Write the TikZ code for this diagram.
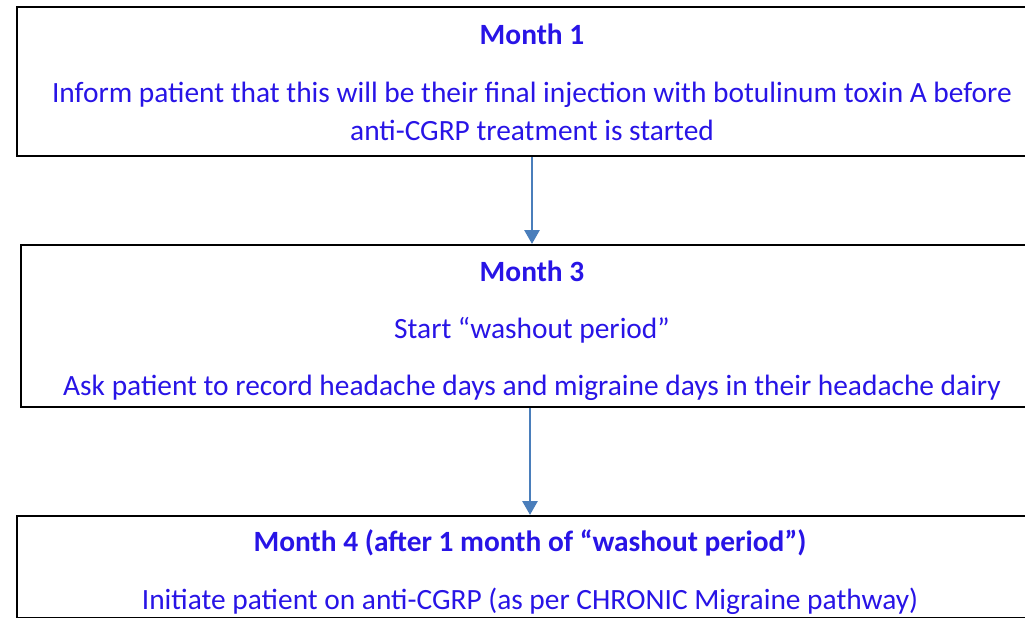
\documentclass[tikz,border=0pt]{standalone}
\usepackage{fontspec}
\setmainfont{Carlito}
\usetikzlibrary{positioning,arrows.meta}
\definecolor{txtblue}{RGB}{40,20,230}
\definecolor{arrowblue}{RGB}{74,126,187}

\begin{document}
\begin{tikzpicture}[x=1pt,y=-1pt,
  box/.style={draw,line width=2.2pt,minimum width=1040pt,anchor=north west,inner sep=0pt},
  txt/.style={text=txtblue,font=\fontsize{29.4}{34}\selectfont,inner sep=0pt},
  ttl/.style={txt,font=\fontsize{29.4}{34}\selectfont\bfseries},
  flow/.style={draw=arrowblue,line width=2.8pt,-{Triangle[length=14pt,width=15pt]}}]
\useasboundingbox (0,0) rectangle (1025,618);
\clip (0,0) rectangle (1025,618);

\node[box,minimum height=149pt] (box1) at (16,6) {};
\node[box,minimum height=162pt] (box2) at (20,244) {};
\node[box,minimum height=102pt] (box3) at (16,515) {};

\node[ttl] (m1) at (532,34) {Month 1};
\node[txt] (inform) at (532,95) {Inform patient that this will be their final injection with botulinum toxin A before};
\node[txt] (inform2) at (532,130) {anti-CGRP treatment is started};

\node[ttl] (m3) at (532,271) {Month 3};
\node[txt] (start) at (532,330) {Start “washout period”};
\node[txt] (ask) at (532,388) {Ask patient to record headache days and migraine days in their headache dairy};

\node[ttl] (m4) at (530,543) {Month 4 (after 1 month of “washout period”)};
\node[txt] (initiate) at (530,601) {Initiate patient on anti-CGRP (as per CHRONIC Migraine pathway)};

\draw[flow] (box1.south -| m1) -- (box2.north -| m1);
\draw[flow] (box2.south -| m4) -- (box3.north -| m4);
\end{tikzpicture}
\end{document}
